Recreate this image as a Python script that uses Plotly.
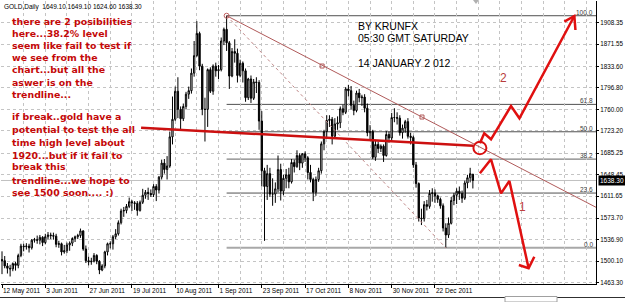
import plotly.graph_objects as go

# ---------------- data ----------------
DATES = ["12 May 2011", "3 Jun 2011", "27 Jun 2011", "19 Jul 2011", "10 Aug 2011", "1 Sep 2011",
         "23 Sep 2011", "17 Oct 2011", "8 Nov 2011", "30 Nov 2011", "22 Dec 2011"]
DATE_IDX = [0, 16, 32, 48, 64, 80, 96, 112, 128, 144, 160]

OPEN = [1503, 1501, 1492, 1488, 1487, 1496, 1493, 1510, 1526, 1525, 1526, 1523, 1536, 1537, 1536, 1541, 1532,
        1542, 1545, 1544, 1543, 1529, 1530, 1516, 1518, 1528, 1531, 1539, 1542, 1544, 1552, 1521, 1501, 1499,
        1500, 1510, 1500, 1485, 1492, 1516, 1530, 1530, 1542, 1547, 1566, 1586, 1587, 1594, 1602, 1600, 1599,
        1587, 1601, 1613, 1618, 1616, 1614, 1628, 1622, 1644, 1668, 1657, 1663, 1713, 1743, 1791, 1760, 1744,
        1765, 1786, 1792, 1822, 1852, 1890, 1834, 1760, 1760, 1828, 1791, 1834, 1826, 1828, 1877, 1897, 1874,
        1817, 1859, 1856, 1818, 1839, 1826, 1780, 1812, 1779, 1807, 1806, 1740, 1655, 1628, 1650, 1615, 1615,
        1624, 1657, 1620, 1642, 1648, 1636, 1669, 1662, 1681, 1668, 1684, 1677, 1652, 1640, 1618, 1640, 1655,
        1701, 1722, 1741, 1743, 1714, 1735, 1737, 1761, 1755, 1795, 1792, 1767, 1758, 1788, 1780, 1781, 1762,
        1720, 1722, 1678, 1700, 1693, 1697, 1681, 1717, 1711, 1746, 1746, 1745, 1720, 1728, 1739, 1714, 1712,
        1665, 1633, 1574, 1573, 1597, 1594, 1616, 1617, 1612, 1606, 1595, 1557, 1545, 1565, 1604, 1613, 1620,
        1616, 1608, 1634, 1643, 1649.1]
HIGH = [1517, 1509, 1497, 1494, 1498, 1499, 1513, 1530, 1530, 1531, 1530, 1538, 1540, 1544, 1545, 1543, 1547,
        1550, 1549, 1549, 1547, 1535, 1532, 1528, 1532, 1534, 1541, 1544, 1547, 1556, 1553, 1527, 1508, 1506,
        1514, 1512, 1502, 1495, 1518, 1532, 1534, 1545, 1555, 1570, 1590, 1593, 1598, 1609, 1605, 1603, 1603,
        1604, 1624, 1622, 1626, 1623, 1632, 1632, 1646, 1674, 1675, 1680, 1722, 1782, 1799, 1815, 1765, 1770,
        1790, 1799, 1830, 1877, 1911, 1893, 1838, 1780, 1830, 1832, 1837, 1840, 1836, 1883, 1900, 1920.3, 1877,
        1865, 1880, 1864, 1845, 1842, 1830, 1814, 1818, 1812, 1815, 1810, 1757, 1660, 1665, 1660, 1642, 1635,
        1681, 1667, 1648, 1658, 1660, 1675, 1674, 1690, 1685, 1685, 1688, 1680, 1665, 1643, 1645, 1660, 1705,
        1725, 1750, 1750, 1747, 1745, 1748, 1765, 1768, 1798, 1802, 1800, 1775, 1792, 1795, 1785, 1786, 1770,
        1733, 1725, 1708, 1705, 1700, 1700, 1723, 1722, 1754, 1762, 1755, 1750, 1734, 1742, 1745, 1720, 1715,
        1670, 1635, 1590, 1603, 1605, 1622, 1625, 1623, 1614, 1609, 1599, 1565, 1575, 1610, 1617, 1625, 1628,
        1621, 1638, 1648, 1660, 1649.1]
LOW = [1478, 1488, 1479, 1474, 1483, 1484, 1488, 1507, 1517, 1520, 1515, 1520, 1532, 1530, 1529, 1526, 1529,
       1537, 1538, 1537, 1524, 1523, 1510, 1513, 1514, 1518, 1526, 1533, 1538, 1540, 1518, 1497, 1493, 1494,
       1498, 1495, 1478, 1483, 1488, 1510, 1522, 1520, 1538, 1544, 1563, 1576, 1582, 1591, 1586, 1588, 1578,
       1585, 1598, 1607, 1605, 1610, 1610, 1603, 1616, 1640, 1650, 1640, 1660, 1700, 1740, 1745, 1725, 1740,
       1760, 1778, 1787, 1816, 1850, 1827, 1750, 1705, 1730, 1788, 1785, 1816, 1812, 1825, 1870, 1860, 1795,
       1815, 1840, 1806, 1815, 1806, 1773, 1776, 1771, 1776, 1788, 1725, 1628, 1535, 1605, 1610, 1595, 1600,
       1618, 1604, 1613, 1625, 1625, 1633, 1652, 1660, 1656, 1660, 1670, 1640, 1635, 1603, 1612, 1636, 1650,
       1690, 1710, 1730, 1700, 1712, 1725, 1728, 1750, 1752, 1782, 1760, 1750, 1755, 1772, 1766, 1755, 1714,
       1707, 1675, 1672, 1685, 1687, 1670, 1679, 1703, 1706, 1738, 1734, 1715, 1710, 1720, 1710, 1700, 1660,
       1626, 1568, 1562, 1568, 1587, 1590, 1602, 1600, 1600, 1590, 1551, 1523, 1540, 1563, 1596, 1598, 1605,
       1600, 1605, 1625, 1635, 1624.6]
CLOSE = [1501, 1492, 1488, 1487, 1496, 1493, 1510, 1526, 1525, 1526, 1523, 1536, 1537, 1536, 1541, 1532, 1542,
         1545, 1544, 1543, 1529, 1530, 1516, 1518, 1528, 1531, 1539, 1542, 1544, 1552, 1521, 1501, 1499, 1500,
         1510, 1500, 1485, 1492, 1516, 1530, 1530, 1542, 1547, 1566, 1586, 1587, 1594, 1602, 1600, 1599, 1587,
         1601, 1613, 1618, 1616, 1614, 1628, 1622, 1644, 1668, 1657, 1663, 1713, 1743, 1791, 1760, 1744, 1765,
         1786, 1792, 1822, 1852, 1890, 1834, 1760, 1760, 1828, 1791, 1834, 1826, 1828, 1877, 1897, 1874, 1817,
         1859, 1856, 1818, 1839, 1826, 1780, 1812, 1779, 1807, 1806, 1740, 1655, 1628, 1650, 1615, 1615, 1624,
         1657, 1620, 1642, 1648, 1636, 1669, 1662, 1681, 1668, 1684, 1677, 1652, 1640, 1618, 1640, 1655, 1701,
         1722, 1741, 1743, 1714, 1735, 1737, 1761, 1755, 1795, 1792, 1767, 1758, 1788, 1780, 1781, 1762, 1720,
         1722, 1678, 1700, 1693, 1697, 1681, 1717, 1711, 1746, 1746, 1745, 1720, 1728, 1739, 1714, 1712, 1665,
         1633, 1574, 1573, 1597, 1594, 1616, 1617, 1612, 1606, 1595, 1557, 1545, 1565, 1604, 1613, 1620, 1616,
         1608, 1634, 1643, 1650, 1638.3]

PRICE_TICKS = [1908.35, 1871.55, 1833.60, 1796.80, 1760.00, 1723.20, 1685.25, 1648.45, 1611.65,
               1573.70, 1536.90, 1500.10, 1463.30]
LAST_PRICE = 1638.30
HEADER = "GOLD,Daily  1649.10 1649.10 1624.60 1638.30"

# Fibonacci retracement (high of 6 Sep 2011 -> low of 29 Dec 2011)
FIB_HIGH_IDX, FIB_HIGH = 83, 1920.3
FIB_LOW_IDX, FIB_LOW = 164, 1523.0
FIB_LEVELS = [0.0, 23.6, 38.2, 50.0, 61.8, 100.0]

# trend lines (bar index, price)
DOWN_TREND_X = [83, 219.5]
DOWN_TREND_Y = [1920.3, 1592.4]
DOWN_TREND_ANCHOR_X = [118.3, 155.2]
DOWN_TREND_ANCHOR_Y = [1834.2, 1746.9]
RED_TREND_X = [51.4, 174.1]
RED_TREND_Y = [1728.6, 1697.8]

# hand-drawn scenario arrows (bar index, price)
PATH2_X = [176.6, 178.2, 180.7, 188.1, 191.2, 211.5]
PATH2_Y = [1701.9, 1719.0, 1708.8, 1765.8, 1744.7, 1919.8]
HEAD2_X = [207.8, 211.5, 211.9]
HEAD2_Y = [1910.1, 1919.8, 1895.9]
PATH1_X = [176.6, 180.7, 184.4, 187.5, 194.6]
PATH1_Y = [1650.6, 1674.5, 1616.3, 1637.4, 1488.0]
HEAD1_X = [191.0, 194.6, 196.7]
HEAD1_Y = [1493.6, 1488.0, 1507.8]
CIRCLE_X = [174.2, 179.0]
CIRCLE_Y = [1683.3, 1704.5]

NOTE_LINES = ["there are 2 posibilities", "here...38.2% level", "seem like fail to test if",
              "we see from the", "chart...but all the", "aswer is on the", "trendline...",
              "if break..gold have a", "potential to test the all", "time high level about",
              "1920...but if it fail to", "break this", "trendline...we hope to", "see 1500 soon.... :)"]
NOTE_Y_PX = [21.7, 33.3, 45.0, 57.3, 70.0, 82.0, 94.0, 116.7, 129.5, 142.5, 155.0, 167.0, 180.0, 192.7]
AUTHOR_LINES = ["BY KRUNFX", "05:30 GMT SATURDAY", "14 JANUARY 2 012"]
AUTHOR_Y_PX = [26.0, 38.3, 62.5]

# ---------------- layout geometry ----------------
W, H = 625, 302
ML, MR, MT, MB = 1, 29, 1, 18
PW, PH = W - ML - MR, H - MT - MB
X_RANGE = [-0.37, 219.5]
Y_RANGE = [1461.1, 1945.5]


def pxx(x):
    return (x - ML) / PW


def pxy(y):
    return 1 - (y - MT) / PH


N = len(CLOSE)
idx = list(range(N))

fig = go.Figure()
fig.add_trace(go.Candlestick(
    x=idx, open=OPEN, high=HIGH, low=LOW, close=CLOSE,
    increasing=dict(line=dict(color="black", width=1), fillcolor="white"),
    decreasing=dict(line=dict(color="black", width=1), fillcolor="black"),
    whiskerwidth=0, hoverinfo="skip", showlegend=False))

shapes = []
# bid line
shapes.append(dict(type="line", xref="paper", yref="y", x0=0, x1=1, y0=LAST_PRICE, y1=LAST_PRICE,
                   line=dict(color="#c0c0c0", width=1), layer="below"))
# fibonacci levels
fib_prices = [FIB_LOW + lv / 100 * (FIB_HIGH - FIB_LOW) for lv in FIB_LEVELS]
for lv, p in zip(FIB_LEVELS, fib_prices):
    if lv == 0.0:
        col, wd = "#a8a8a8", 2
    elif lv == 38.2:
        col, wd = "#808080", 1.3
    else:
        col, wd = "#505050", 1
    shapes.append(dict(type="line", xref="x", yref="y", x0=FIB_HIGH_IDX, x1=X_RANGE[1], y0=p, y1=p,
                       line=dict(color=col, width=wd), layer="below"))
# circle
shapes.append(dict(type="circle", xref="x", yref="y", x0=CIRCLE_X[0], x1=CIRCLE_X[1],
                   y0=CIRCLE_Y[0], y1=CIRCLE_Y[1], line=dict(color="#d81010", width=2)))
# chart shift marker (top)
shapes.append(dict(type="path", xref="paper", yref="paper",
                   path=f"M {pxx(473)} {pxy(0)} L {pxx(479)} {pxy(0)} L {pxx(476)} {pxy(4)} Z",
                   fillcolor="#b0b0b0", line=dict(width=0)))
# bottom tab strip
shapes.append(dict(type="line", xref="paper", yref="paper", x0=pxx(0), x1=pxx(W), y0=pxy(297.5), y1=pxy(297.5),
                   line=dict(color="#303030", width=1)))
shapes.append(dict(type="rect", xref="paper", yref="paper", x0=pxx(505), x1=pxx(557), y0=pxy(302), y1=pxy(296.5),
                   fillcolor="white", line=dict(color="#a0a0a0", width=1)))

# fib dashed base line
fig.add_trace(go.Scatter(x=[FIB_HIGH_IDX, FIB_LOW_IDX], y=[FIB_HIGH, FIB_LOW], mode="lines",
                         line=dict(color="#c08888", width=1, dash="dot"), hoverinfo="skip", showlegend=False))
# thin down trend line
fig.add_trace(go.Scatter(x=DOWN_TREND_X, y=DOWN_TREND_Y, mode="lines",
                         line=dict(color="#b05a5a", width=1), hoverinfo="skip", showlegend=False))
fig.add_trace(go.Scatter(x=DOWN_TREND_ANCHOR_X, y=DOWN_TREND_ANCHOR_Y, mode="markers",
                         marker=dict(symbol="square-open", size=4, color="#b05a5a", line=dict(width=1)),
                         hoverinfo="skip", showlegend=False))
fig.add_trace(go.Scatter(x=[FIB_HIGH_IDX], y=[FIB_HIGH], mode="markers",
                         marker=dict(symbol="circle-open", size=5, color="#c06060", line=dict(width=1)),
                         hoverinfo="skip", showlegend=False))
# thick red trend line
fig.add_trace(go.Scatter(x=RED_TREND_X, y=RED_TREND_Y, mode="lines",
                         line=dict(color="#cc1010", width=2.5), hoverinfo="skip", showlegend=False))
# scenario arrows
for xs, ys in [(PATH2_X, PATH2_Y), (HEAD2_X, HEAD2_Y), (PATH1_X, PATH1_Y), (HEAD1_X, HEAD1_Y)]:
    fig.add_trace(go.Scatter(x=xs, y=ys, mode="lines",
                             line=dict(color="#e01010", width=2.5), hoverinfo="skip", showlegend=False))

annotations = []
annotations.append(dict(xref="paper", yref="paper", x=pxx(2), y=pxy(7), xanchor="left", yanchor="middle",
                        text=HEADER, showarrow=False,
                        font=dict(family="Liberation Sans", size=6.5, color="black")))
for t, yp in zip(NOTE_LINES, NOTE_Y_PX):
    annotations.append(dict(xref="paper", yref="paper", x=pxx(10), y=pxy(yp), xanchor="left",
                            yanchor="middle", text=t, showarrow=False,
                            font=dict(family="DejaVu Sans", size=9.4, color="#c40808", weight="bold")))
for t, yp in zip(AUTHOR_LINES, AUTHOR_Y_PX):
    annotations.append(dict(xref="paper", yref="paper", x=pxx(356), y=pxy(yp), xanchor="left",
                            yanchor="middle", text=t, showarrow=False,
                            font=dict(family="Liberation Sans", size=10.5, color="black")))
annotations.append(dict(xref="paper", yref="paper", x=pxx(508.7), y=pxy(69.3), text="2", showarrow=False,
                        font=dict(family="Liberation Sans", size=12, color="#b83c3c")))
annotations.append(dict(xref="paper", yref="paper", x=pxx(527.7), y=pxy(216), text="1", showarrow=False,
                        font=dict(family="Liberation Sans", size=12, color="#c04040")))
for lv, p in zip(FIB_LEVELS, fib_prices):
    annotations.append(dict(xref="paper", yref="y", x=pxx(594), y=p, xanchor="right", yanchor="bottom",
                            text=f"{lv:.1f}", showarrow=False, borderpad=0, yshift=-1,
                            font=dict(family="Liberation Sans", size=6.5, color="#404040")))
annotations.append(dict(xref="paper", yref="y", x=1, y=LAST_PRICE, xanchor="left", yanchor="middle",
                        text=f"{LAST_PRICE:.2f}", showarrow=False, bgcolor="black", borderpad=1, xshift=2,
                        font=dict(family="Liberation Sans", size=6.5, color="white")))

fig.update_layout(
    width=W, height=H, margin=dict(l=ML, r=MR, t=MT, b=MB),
    paper_bgcolor="white", plot_bgcolor="white",
    shapes=shapes, annotations=annotations, showlegend=False,
    xaxis=dict(range=X_RANGE, rangeslider=dict(visible=False), tickmode="array", tickvals=DATE_IDX,
               ticktext=DATES, ticklabelposition="outside right", tickangle=0, ticks="outside", ticklen=3,
               tickcolor="black", showline=True, linecolor="black", linewidth=1, zeroline=False,
               showgrid=True, gridcolor="#c4c4c4", griddash="dot", gridwidth=1,
               minor=dict(tick0=0, dtick=8, showgrid=True, gridcolor="#c4c4c4", griddash="dot", gridwidth=1),
               tickfont=dict(family="Liberation Sans", size=6.5, color="black")),
    yaxis=dict(range=Y_RANGE, side="right", tickmode="array", tickvals=PRICE_TICKS,
               ticktext=[f"{v:.2f}" for v in PRICE_TICKS], ticks="outside", ticklen=2, tickcolor="black",
               showline=True, linecolor="black", linewidth=1, zeroline=False,
               showgrid=True, gridcolor="#c4c4c4", griddash="dot", gridwidth=1,
               tickfont=dict(family="Liberation Sans", size=6.3, color="black")),
)

fig.write_html("out.html")
